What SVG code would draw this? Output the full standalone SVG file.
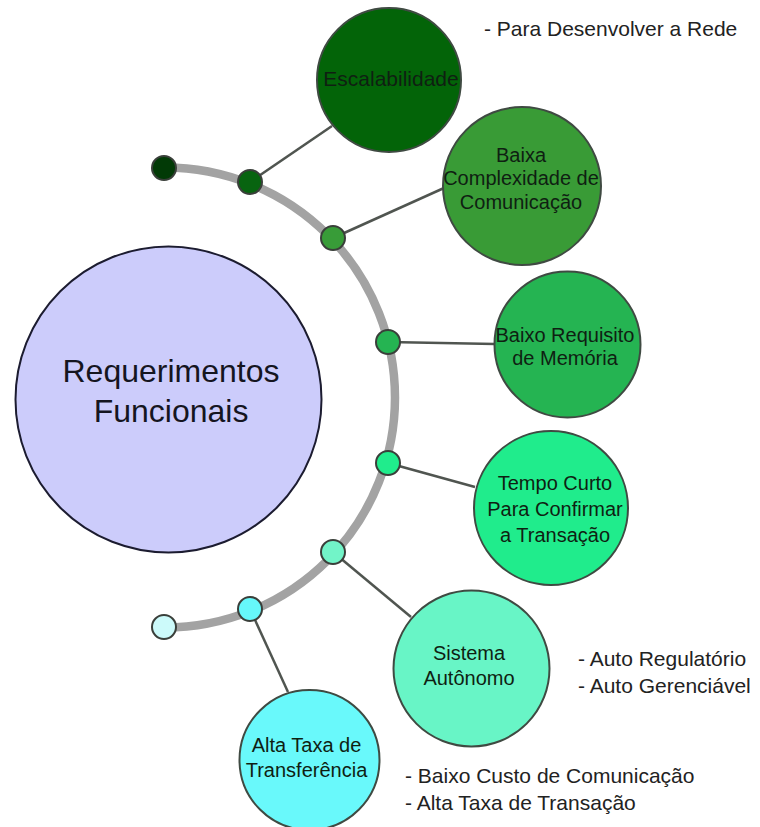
<svg xmlns="http://www.w3.org/2000/svg" width="760" height="827" viewBox="0 0 760 827">
<style>
  .lbl { font-family: "Liberation Sans", Arial, sans-serif; font-size: 20px; fill: #0f1f12; text-anchor: middle; }
  .note { font-family: "Liberation Sans", Arial, sans-serif; font-size: 21px; fill: #222; }
  .node { stroke: #3f4a42; stroke-width: 2; }
  .dot { stroke: #3a3f3a; stroke-width: 2; }
  .conn { stroke: #505550; stroke-width: 2.5; fill: none; }
</style>
<rect width="760" height="827" fill="#ffffff"/>

<g id="spine">
  <path d="M 165 167.5 A 230 230 0 0 1 165 627.5" fill="none" stroke="#a3a3a3" stroke-width="8.5"/>
</g>

<g id="connectors">
  <line class="conn" x1="250" y1="182" x2="332" y2="126"/>
  <line class="conn" x1="333" y1="238" x2="444" y2="188"/>
  <line class="conn" x1="388" y1="342" x2="495" y2="344"/>
  <line class="conn" x1="388" y1="463" x2="475" y2="487"/>
  <line class="conn" x1="333" y1="552" x2="411" y2="617"/>
  <line class="conn" x1="250" y1="609" x2="288" y2="692"/>
</g>

<g id="dots">
  <circle class="dot" cx="164" cy="168" r="12" fill="#023a06"/>
  <circle class="dot" cx="250" cy="182" r="12" fill="#086410"/>
  <circle class="dot" cx="333" cy="238" r="12" fill="#389c38"/>
  <circle class="dot" cx="388" cy="342" r="12" fill="#25b452"/>
  <circle class="dot" cx="388" cy="463" r="12" fill="#20ec8c"/>
  <circle class="dot" cx="333" cy="552" r="12" fill="#72f4c8"/>
  <circle class="dot" cx="250" cy="609" r="12" fill="#66f8fa"/>
  <circle class="dot" cx="164" cy="627" r="12" fill="#ccfafa"/>
</g>

<g id="main">
  <circle cx="168.5" cy="399.5" r="153" fill="#ccccfb" stroke="#1c1c30" stroke-width="2"/>
  <text x="171" y="382" font-family="Liberation Sans, Arial, sans-serif" font-size="32" fill="#15151f" text-anchor="middle">Requerimentos</text>
  <text x="171" y="422" font-family="Liberation Sans, Arial, sans-serif" font-size="32" fill="#15151f" text-anchor="middle">Funcionais</text>
</g>

<g id="escalabilidade">
  <circle class="node" cx="389" cy="80" r="72" fill="#036408"/>
  <text class="lbl" x="391" y="86" style="font-size:21px" fill="#062a08">Escalabilidade</text>
</g>

<g id="baixa-complexidade">
  <circle class="node" cx="522" cy="186" r="79" fill="#399b36"/>
  <text class="lbl" x="521" y="162">Baixa</text>
  <text class="lbl" x="521" y="185">Complexidade de</text>
  <text class="lbl" x="521" y="209">Comunicação</text>
</g>

<g id="baixo-requisito">
  <circle class="node" cx="567.5" cy="344.5" r="73" fill="#25b452"/>
  <text class="lbl" x="565" y="342">Baixo Requisito</text>
  <text class="lbl" x="565" y="365">de Memória</text>
</g>

<g id="tempo-curto">
  <circle class="node" cx="551" cy="508" r="77" fill="#20ec8c"/>
  <text class="lbl" x="555" y="490">Tempo Curto</text>
  <text class="lbl" x="555" y="516">Para Confirmar</text>
  <text class="lbl" x="555" y="542">a Transação</text>
</g>

<g id="sistema-autonomo">
  <circle class="node" cx="471.5" cy="668.5" r="78" fill="#68f5c6"/>
  <text class="lbl" x="469" y="660">Sistema</text>
  <text class="lbl" x="469" y="685">Autônomo</text>
</g>

<g id="alta-taxa">
  <circle class="node" cx="309.5" cy="760" r="70" fill="#69f9fb"/>
  <text class="lbl" x="306.5" y="752">Alta Taxa de</text>
  <text class="lbl" x="306.5" y="777">Transferência</text>
</g>

<g id="notes">
  <text class="note" x="484" y="36">- Para Desenvolver a Rede</text>
  <text class="note" x="578" y="666">- Auto Regulatório</text>
  <text class="note" x="578" y="693">- Auto Gerenciável</text>
  <text class="note" x="405" y="783">- Baixo Custo de Comunicação</text>
  <text class="note" x="405" y="810">- Alta Taxa de Transação</text>
</g>
</svg>
